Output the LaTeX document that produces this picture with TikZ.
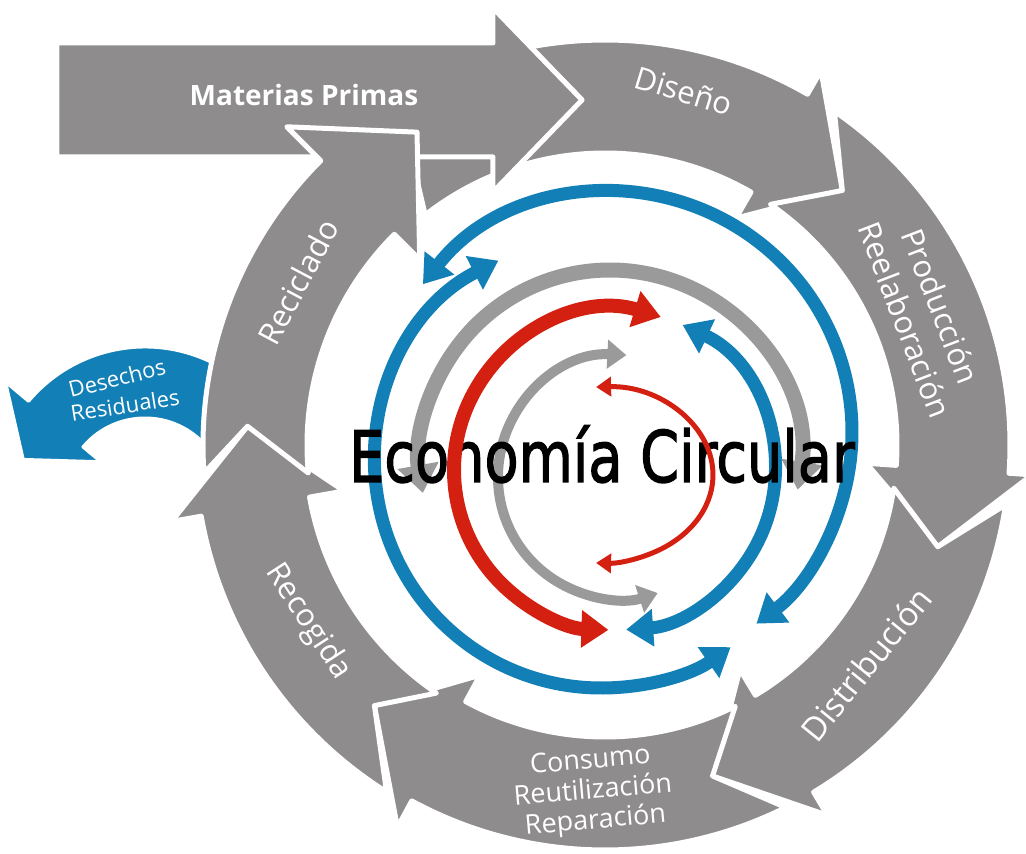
\documentclass[tikz,border=0pt]{standalone}
\usepackage{fontspec}
\setmainfont{Open Sans}
\newfontfamily\titlefont[FakeBold=2]{DejaVu Sans}
\usetikzlibrary{arrows.meta}
\definecolor{ringgrey}{RGB}{142,140,141}
\definecolor{arcgrey}{RGB}{154,154,154}
\definecolor{arcblue}{RGB}{18,128,182}
\definecolor{arcred}{RGB}{212,32,16}
\tikzset{
  ringarrow/.style={fill=ringgrey, draw=white, line width=5pt, line join=round},
  wastearrow/.style={fill=arcblue, draw=white, line width=3pt, line join=round},
  ringlabel/.style={text=white, align=center, inner sep=0pt, font=\fontsize{31}{38}\selectfont},
  wastelabel/.style={text=white, inner sep=0pt, font=\fontsize{22}{25}\selectfont},
  titlelabel/.style={anchor=base, inner sep=0pt, xscale=0.785, font=\titlefont\fontsize{71}{80}\selectfont},
  bluearc/.style={draw=arcblue, line width=13pt, arrows={Triangle[width=36pt,length=27pt]-Triangle[width=36pt,length=27pt]}},
  greyarc/.style={draw=arcgrey, line width=15pt, arrows={Triangle[width=40pt,length=28pt]-Triangle[width=40pt,length=28pt]}},
  innergrey/.style={draw=arcgrey, line width=10pt, arrows={Triangle[width=28pt,length=19pt]-Triangle[width=28pt,length=19pt]}},
  redarc/.style={draw=arcred, line width=14pt, arrows={Triangle[width=36pt,length=27pt]-Triangle[width=36pt,length=27pt]}},
  redthin/.style={draw=arcred, line width=5pt, arrows={Triangle[width=19pt,length=15pt]-Triangle[width=19pt,length=15pt]}}
}
\begin{document}
\begin{tikzpicture}[x=1pt,y=1pt]
\useasboundingbox (-605,-409) rectangle (421,445);
\filldraw[wastearrow, shift={(-460,-54)}] (15:152) arc (15:140:152) -- (140:182) -- (162:128) -- (140:58) -- (140:81) arc (140:15:81) -- cycle;
\filldraw[ringarrow] (100.6:405) arc (100.6:60:405) -- (60:432) -- (47:348) -- (60:262) -- (60:292) arc (60:128:292) -- (-195,295) -- (-105,345) -- (-23,345) -- cycle;
\filldraw[ringarrow] (55.5:405) arc (55.5:-4:405) -- (-4:428) -- (-17:348) -- (-4:262) -- (-4:292) arc (-4:55.5:292) -- (47:348) -- cycle;
\filldraw[ringarrow] (-8.5:405) arc (-8.5:-59:405) -- (-59:432) -- (-72:348) -- (-59:262) -- (-59:292) arc (-59:-8.5:292) -- (-17:348) -- cycle;
\filldraw[ringarrow] (-63.5:405) arc (-63.5:-118.5:405) -- (-118.5:435) -- (-131.5:348) -- (-118.5:262) -- (-118.5:292) arc (-118.5:-63.5:292) -- (-72:348) -- cycle;
\filldraw[ringarrow] (-122.2:410) arc (-122.2:-170:410) -- (-170:440) -- (-183:358) -- (-170:265) -- (-170:300) arc (-170:-124.2:300) -- (-131.5:348) -- cycle;
\filldraw[ringarrow] (-548,402) -- (-112,402) -- (-112,437) -- (-23,345) -- (-112,253) -- (-112,288) -- (-548,288) -- cycle;
\filldraw[ringarrow] (184:402) arc (184:135:402) -- (135:450) -- (121:365) -- (135:262) -- (135:298) arc (135:185.4:298) -- (177:358) -- cycle;
\node[ringlabel, font=\bfseries\fontsize{28}{34}\selectfont] (rawmat) at (-301,350) {Materias Primas};
\node[ringlabel, rotate=-17] (design) at (79,354) {Diseño};
\node[ringlabel, rotate=-69] (production) at (318,132) {Producción\\Reelaboración};
\node[ringlabel, rotate=51, font=\fontsize{33}{38}\selectfont] (distribution) at (261,-219) {Distribución};
\node[ringlabel, rotate=5, font=\fontsize{27}{30}\selectfont] (consumption) at (-12,-347) {Consumo\\Reutilización\\Reparación};
\node[ringlabel, rotate=-57] (collection) at (-297,-177) {Recogida};
\node[ringlabel, rotate=62] (recycling) at (-307,163) {Reciclado};
\node[wastelabel, rotate=14] (wastetop) at (-488,67) {Desechos};
\node[wastelabel, rotate=9] (wastebottom) at (-480,40) {Residuales};
\draw[bluearc] (7,13) ++(142:240) arc (142:-53:240);
\draw[bluearc] (-4,-17) ++(117:226) arc (117:305:226);
\draw[bluearc] (10,-25) ++(65:160) arc (65:-86:160);
\draw[greyarc] (5,-15) ++(-9:190) arc (-9:190:190);
\draw[innergrey] (15,-32) ++(87:122) arc (87:288:122);
\node[titlelabel] (title) at (-3,-37) {Economía Circular};
\draw[redarc] (9,-25) ++(73:160) arc (73:268:160);
\draw[redthin] (-5,-30) ++(92:113 and 88) arc (92:-92:113 and 88);
\end{tikzpicture}
\end{document}
